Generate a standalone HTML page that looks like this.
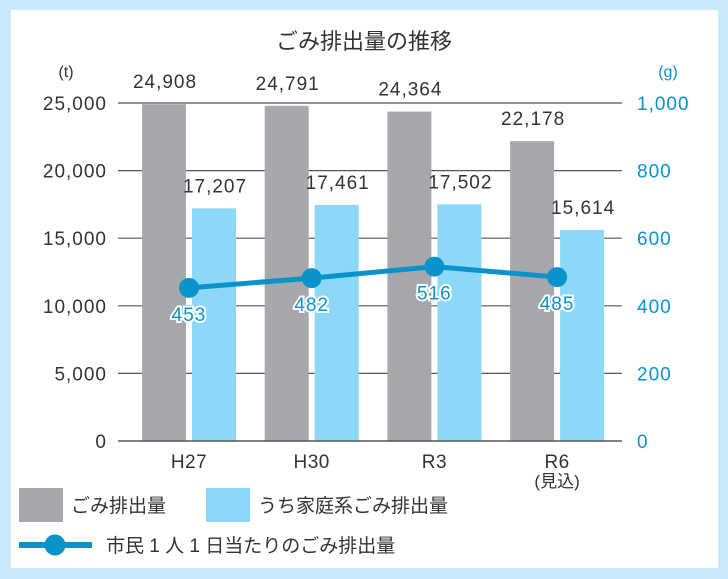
<!DOCTYPE html>
<html><head><meta charset="utf-8"><style>
html,body{margin:0;padding:0;}
body{width:728px;height:579px;background:#c8e9f9;position:relative;overflow:hidden;font-family:"Liberation Sans","Noto Sans CJK JP",sans-serif;}
#panel{position:absolute;left:11px;top:10px;width:707px;height:558px;background:#fff;}
svg{position:absolute;left:0;top:0;}
</style></head><body>
<div id="panel"></div>
<svg id="chart" width="728" height="579"></svg>
<script>
const categories=["H27","H30","R3","R6"];
const totalWaste=[24908,24791,24364,22178];
const householdWaste=[17207,17461,17502,15614];
const perCapita=[453,482,516,485];
const leftTicks=[0,5000,10000,15000,20000,25000];
const rightTicks=[0,200,400,600,800,1000];
const NS="http://www.w3.org/2000/svg";
const svg=document.getElementById('chart');
const y0=441,yTop=103;
const yL=v=>y0-(v/25000)*(y0-yTop);
const yR=v=>y0-(v/1000)*(y0-yTop);
const xC=i=>189+i*122.7;
const fmt=v=>v.toLocaleString('en-US');
function el(t,a,txt){const e=document.createElementNS(NS,t);for(const k in a)e.setAttribute(k,a[k]);if(txt!=null)e.textContent=txt;svg.appendChild(e);return e;}
let e;
e=el('text',{x:364,y:49,'text-anchor':'middle','font-size':22,fill:'#333'},'ごみ排出量の推移');


e=el('text',{x:66,y:77,'text-anchor':'middle','font-size':16,fill:'#333'},'(t)');


e=el('text',{x:668,y:77,'text-anchor':'middle','font-size':16,fill:'#0a93cb'},'(g)');


leftTicks.forEach(t=>{
  if(t>0){e=el('line',{x1:118,x2:622,y1:yL(t),y2:yL(t),stroke:'#555','stroke-width':1.2});
  
  }
  e=el('text',{x:107,y:yL(t)+7,'text-anchor':'end','font-size':19,'letter-spacing':1,fill:'#333'},fmt(t));
  
  
});
rightTicks.forEach(t=>{
  e=el('text',{x:637,y:yR(t)+7,'text-anchor':'start','font-size':19,'letter-spacing':1,fill:'#0a93cb'},fmt(t));
  
  
});
categories.forEach((c,i)=>{
  const cx=xC(i);
  e=el('rect',{x:cx-47,y:yL(totalWaste[i]),width:44,height:y0-yL(totalWaste[i]),fill:'#a7a8ab'});
  
  
  e=el('rect',{x:cx+3,y:yL(householdWaste[i]),width:44,height:y0-yL(householdWaste[i]),fill:'#8dd8f8'});
  
  
  e=el('text',{x:cx-24,y:yL(totalWaste[i])-16,'text-anchor':'middle','font-size':19,'letter-spacing':1,fill:'#333'},fmt(totalWaste[i]));
  
  
  e=el('text',{x:cx+26,y:yL(householdWaste[i])-16,'text-anchor':'middle','font-size':19,'letter-spacing':1,fill:'#333'},fmt(householdWaste[i]));
  
  
  e=el('text',{x:cx,y:468,'text-anchor':'middle','font-size':19,'letter-spacing':0.5,fill:'#333'},c);
  
  
});
e=el('text',{x:xC(3),y:487,'text-anchor':'middle','font-size':17,fill:'#333'},'(見込)');


e=el('line',{x1:118,x2:622,y1:y0,y2:y0,stroke:'#555','stroke-width':1.5});


e=el('polyline',{points:perCapita.map((v,i)=>xC(i)+','+yR(v)).join(' '),fill:'none',stroke:'#0a93cb','stroke-width':5});


perCapita.forEach((v,i)=>{
  e=el('circle',{cx:xC(i),cy:yR(v),r:10,fill:'#0a93cb'});
  
  
  e=el('text',{x:xC(i),y:yR(v)+33,'text-anchor':'middle','font-size':19,'letter-spacing':1,fill:'#0a93cb',stroke:'#fff','stroke-width':4,'paint-order':'stroke'},v);
  
  
});
e=el('rect',{x:19,y:488,width:44,height:34,fill:'#a7a8ab'});


e=el('text',{x:71,y:512,'font-size':19,fill:'#333'},'ごみ排出量');


e=el('rect',{x:206,y:488,width:44,height:34,fill:'#8dd8f8'});


e=el('text',{x:258,y:512,'font-size':19,fill:'#333'},'うち家庭系ごみ排出量');


e=el('line',{x1:19,x2:92,y1:545,y2:545,stroke:'#0a93cb','stroke-width':6});


e=el('circle',{cx:55,cy:545,r:10.5,fill:'#0a93cb'});


e=el('text',{x:106,y:552,'font-size':19,fill:'#333'},'市民 1 人 1 日当たりのごみ排出量');


</script>
</body></html>
